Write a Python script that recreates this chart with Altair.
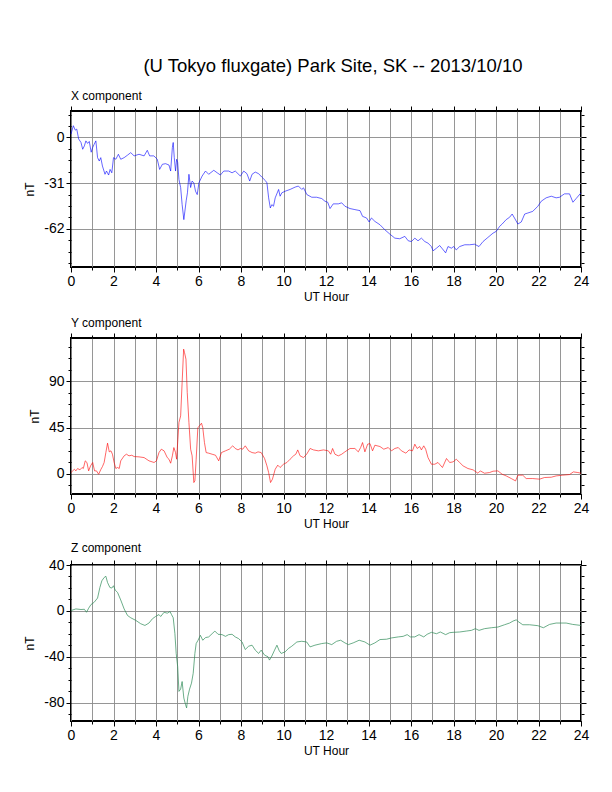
import altair as alt
import pandas as pd

FONT = "Liberation Sans"

# ---------------- data ----------------
x_t = [0.0, 0.11, 0.2, 0.27, 0.36, 0.47, 0.55, 0.63, 0.7, 0.78, 0.86, 0.95, 1.02, 1.09, 1.17,
       1.25, 1.33, 1.4, 1.48, 1.6, 1.67, 1.77, 1.84, 1.92, 2.0, 2.11, 2.23, 2.34, 2.5, 2.66,
       2.81, 2.97, 3.2, 3.44, 3.59, 3.7, 3.9, 4.06, 4.17, 4.3, 4.45, 4.61, 4.69, 4.77, 4.81,
       4.86, 4.92, 4.97, 5.02, 5.08, 5.16, 5.23, 5.31, 5.36, 5.42, 5.48, 5.55, 5.63, 5.7, 5.78,
       5.86, 5.94, 6.02, 6.17, 6.33, 6.48, 6.72, 6.88, 7.03, 7.19, 7.42, 7.58, 7.73, 7.97, 8.13,
       8.28, 8.41, 8.52, 8.67, 8.83, 8.98, 9.14, 9.22, 9.3, 9.38, 9.45, 9.53, 9.61, 9.77, 9.84,
       9.92, 10.08, 10.31, 10.55, 10.7, 10.86, 10.94, 11.1, 11.33, 11.56, 11.8, 11.95, 12.08,
       12.19, 12.34, 12.58, 12.74, 12.89, 13.13, 13.36, 13.6, 13.72, 13.91, 14.03, 14.14, 14.3,
       14.54, 14.77, 15.0, 15.24, 15.47, 15.71, 15.87, 16.02, 16.18, 16.33, 16.49, 16.65, 16.8,
       16.96, 17.04, 17.2, 17.35, 17.48, 17.63, 17.74, 17.9, 18.01, 18.13, 18.29, 18.53, 18.76,
       18.99, 19.2, 19.39, 19.62, 19.86, 20.01, 20.17, 20.29, 20.48, 20.64, 20.76, 20.87, 21.03,
       21.19, 21.35, 21.5, 21.73, 21.97, 22.13, 22.36, 22.6, 22.83, 22.99, 23.22, 23.46, 23.62,
       23.77, 24.0]
x_v = [2.3, 8, 5, 5.7, -1, -3.4, -8, -5.7, -2.3, -4, -2.7, -10, -6.8, -4.6, -2.3,
       -13.7, -16, -13.7, -19.4, -25, -22.8, -25.5, -21.7, -24, -13.7, -14.8, -11.4, -14.8, -13.7, -12,
       -10.3, -12.5, -11.4, -12.5, -8.7, -12.5, -12.5, -14.8, -21.7, -18.2, -17.8, -18.7, -22.8, -6.8, -3.4,
       -13.7, -22.8, -14.8, -17, -28.5, -34, -45.6, -55.8, -50, -43, -37.6, -25, -34, -29.6, -30.8,
       -36.5, -38.8, -30.8, -26.2, -22.8, -25, -22.3, -24, -25.5, -22.8, -22.8, -24, -22.8, -26.2, -22.8,
       -24.6, -29.6, -25, -23.5, -24.6, -26.9, -29.2, -30.8, -41, -47.9, -45.6, -46.7, -41, -35.3, -39.9,
       -37.6, -36.5, -35.3, -33.7, -33, -35.3, -34.2, -38.8, -40.6, -40.6, -41.5, -43.3, -44,
       -48.3, -45.1, -45.1, -44.4, -46.7, -48.3, -49, -49.7, -53.6, -54.7, -57.4, -54.7, -57,
       -59.3, -62.7, -65.6, -68.4, -68.8, -67.2, -70.2, -70.7, -68.4, -70.2, -68.4, -70.7, -71.8,
       -74.1, -77, -75.2, -73.4, -75.7, -78.4, -74.1, -75.2, -74.1, -76.4, -74.1, -72.9, -72.9,
       -72.5, -74.1, -70.7, -67.9, -65, -63.8, -60.4, -58.8, -55.8, -54.2, -52, -54.7, -58.8,
       -57.4, -52, -51.3, -50.2, -46.7, -43.3, -41, -39.9, -41, -40.6, -38.3, -38.3, -44,
       -41.5, -37.6]

y_t = [0.0, 0.08, 0.16, 0.23, 0.31, 0.42, 0.52, 0.58, 0.67, 0.75, 0.83, 0.92, 1.02, 1.11, 1.2,
       1.3, 1.41, 1.48, 1.56, 1.64, 1.72, 1.8, 1.88, 1.95, 2.03, 2.11, 2.19, 2.27, 2.34, 2.5,
       2.61, 2.73, 2.86, 2.97, 3.2, 3.44, 3.67, 3.91, 4.02, 4.14, 4.25, 4.38, 4.53, 4.61, 4.69,
       4.77, 4.84, 4.92, 4.97, 5.03, 5.08, 5.16, 5.23, 5.3, 5.34, 5.41, 5.47, 5.55, 5.63, 5.7,
       5.78, 5.83, 5.89, 5.97, 6.05, 6.14, 6.2, 6.28, 6.36, 6.48, 6.64, 6.8, 6.95, 7.08, 7.27,
       7.45, 7.61, 7.73, 7.86, 7.97, 8.08, 8.2, 8.36, 8.52, 8.67, 8.8, 8.95, 9.11, 9.22, 9.3,
       9.39, 9.48, 9.61, 9.73, 9.84, 10.0, 10.16, 10.31, 10.47, 10.58, 10.67, 10.78, 10.94, 11.09,
       11.25, 11.41, 11.64, 11.88, 12.11, 12.22, 12.31, 12.42, 12.58, 12.74, 12.89, 13.13, 13.36,
       13.52, 13.63, 13.72, 13.83, 13.96, 14.07, 14.19, 14.3, 14.54, 14.72, 14.93, 15.08, 15.24,
       15.4, 15.55, 15.76, 15.91, 16.07, 16.18, 16.29, 16.41, 16.49, 16.6, 16.69, 16.8, 16.96,
       17.12, 17.27, 17.48, 17.67, 17.82, 17.98, 18.13, 18.29, 18.45, 18.68, 18.92, 19.15, 19.26,
       19.46, 19.7, 19.86, 20.09, 20.29, 20.48, 20.72, 20.92, 21.03, 21.26, 21.42, 21.73, 22.05,
       22.28, 22.6, 22.83, 23.14, 23.46, 23.64, 23.85, 24.0]
y_v = [1, 2.6, 4.2, 2.6, 4.9, 3.6, 5.9, 4.9, 12.4, 10.8, 2.6, 7.5, 10.8, 2.6, 2.6,
       -0.7, 4.2, 6.8, 10.8, 20.5, 29.7, 21.2, 22.2, 18.9, 10.8, 4.9, 5.9, 4.9, 12.4, 17.3,
       18.9, 17.3, 17.9, 16.6, 16.3, 15.6, 12.4, 10.8, 12.4, 20.5, 23.8, 22.2, 15.6, 14, 10.1,
       17.3, 25.4, 20.5, 14, 33.6, 49.9, 56.4, 89, 121.6, 118.4, 111.8, 79.2, 49.9, 23.8, 17.3,
       -8.8, -7.2, 14, 45, 46.6, 49.2, 45, 30.3, 20.5, 19.9, 18.9, 17.9, 12.4, 20.5, 22.2,
       23.8, 27.1, 24.5, 23.1, 24.5, 23.8, 27.1, 22.2, 20.5, 19.9, 21.2, 20.5, 14.7, 7.5, 1,
       -8.8, -5.5, 4.2, 8.2, 5.9, 9.1, 10.8, 14, 17.3, 18.9, 23.1, 17.3, 15.6, 18.9,
       24.5, 23.1, 22.2, 23.1, 22.2, 18.9, 24.5, 18.9, 17.3, 18.9, 21.2, 24.5, 24.5,
       21.2, 25.4, 30.3, 21.2, 28.7, 29.3, 22.2, 27.7, 26.4, 23.8, 25.4, 22.2, 24.5,
       25.4, 22.2, 19.9, 23.1, 22.2, 28.7, 24.5, 26.4, 23.1, 27.1, 23.8, 15.6, 9.1,
       9.1, 10.8, 5.9, 14.7, 10.8, 11.4, 14, 10.8, 7.5, 4.9, 3.6, 0.3, 2.6,
       0.3, 1, 2.3, 2.6, -0.7, -2.3, -4.9, -7.2, -1.6, -1.6, -4.9, -4.9, -5.5,
       -3.9, -3.6, -2.3, -1.6, -1, 1.6, 1, 0.3]

z_t = [0.0, 0.23, 0.47, 0.63, 0.73, 0.83, 0.94, 1.09, 1.25, 1.36, 1.45, 1.56, 1.64, 1.72, 1.83,
       1.92, 2.0, 2.08, 2.19, 2.34, 2.5, 2.66, 2.81, 3.05, 3.28, 3.48, 3.67, 3.83, 3.98, 4.14,
       4.22, 4.38, 4.53, 4.66, 4.73, 4.81, 4.89, 4.95, 5.02, 5.08, 5.16, 5.23, 5.31, 5.39, 5.44,
       5.5, 5.58, 5.67, 5.75, 5.83, 5.89, 5.98, 6.09, 6.2, 6.33, 6.48, 6.64, 6.77, 6.92, 7.11,
       7.27, 7.42, 7.58, 7.73, 7.89, 8.05, 8.2, 8.36, 8.52, 8.67, 8.83, 8.95, 9.11, 9.27, 9.34,
       9.45, 9.58, 9.69, 9.8, 9.89, 10.08, 10.23, 10.39, 10.63, 10.86, 11.09, 11.25, 11.48, 11.8,
       12.03, 12.27, 12.5, 12.69, 12.89, 13.05, 13.28, 13.56, 13.83, 14.07, 14.3, 14.54, 14.85,
       15.08, 15.4, 15.63, 15.82, 15.97, 16.18, 16.38, 16.6, 16.76, 16.96, 17.2, 17.38, 17.63,
       17.82, 17.98, 18.29, 18.6, 18.84, 19.03, 19.2, 19.46, 19.78, 20.09, 20.4, 20.64, 20.8,
       20.95, 21.08, 21.26, 21.58, 21.97, 22.23, 22.52, 22.83, 23.3, 23.61, 24.0]
z_v = [0.3, 1.7, 1.2, 1.4, -1.2, 2.3, 5.5, 7.5, 11.2, 20.4, 26.2, 29.1, 30.2, 24.7, 20.4,
       19.9, 21.9, 18.1, 16.1, 9.5, 1.7, -4, -6, -8.3, -11.2, -12.7, -10.6, -6.9, -4.9, -3.2,
       -4.9, -1.2, -2, -0.6, -3.2, -6, -19.9, -37.1, -48.6, -70.2, -68.2, -61.6, -76, -81.7, -84.6,
       -74.5, -68.2, -63, -54.4, -37.1, -28.5, -25.6, -21.3, -25.6, -23.3, -22.7, -19.9, -17.6, -20.4, -20.7,
       -22.2, -20.7, -20.4, -22.7, -24.2, -27.1, -33.7, -30.8, -29.9, -34.2, -37.1, -34.2, -38.6, -40, -42.9,
       -39.4, -34.2, -29.9, -34.8, -37.1, -35.7, -32.8, -30.8, -27.1, -26.5, -27.1, -31.4, -29.9, -28.5,
       -27.9, -29.4, -26.5, -25.6, -27.9, -29.4, -27.9, -25.6, -27.1, -29.9, -27.9, -25, -24.7,
       -23.6, -22.7, -22.2, -20.7, -22.7, -22.7, -20.7, -22.7, -20.4, -18.7, -19.9, -18.4, -20.7,
       -19, -18.7, -18.4, -17.6, -17, -15.5, -17, -15.5, -14.7, -14.1, -12.1, -10.6, -8.9,
       -7.8, -9.8, -12.1, -12.1, -12.9, -14.7, -11.8, -10.6, -10.6, -11.8, -12.7]

hours_all = list(range(0, 25))
hours_even = list(range(0, 25, 2))

x_major = [-62, -31, 0]
x_minor = [-85.25, -77.5, -69.75, -54.25, -46.5, -38.75, -23.25, -15.5, -7.75, 7.75, 15.5]
y_major = [0, 45, 90]
y_minor = [-11.25, 11.25, 22.5, 33.75, 56.25, 67.5, 78.75, 101.25, 112.5, 123.75]
z_major = [-80, -40, 0, 40]
z_minor = [-90, -70, -60, -50, -30, -20, -10, 10, 20, 30]

W, H = 510, 156
GRID = "#8a8a8a"


def panel(t, v, color, width, title, ydom, ymaj, ymin):
    df = pd.DataFrame({"t": t, "v": v})
    base = alt.Chart(df)
    xs = alt.Scale(domain=[0, 24], nice=False)
    ys = alt.Scale(domain=ydom, nice=False, zero=False)
    common = dict(domain=False, tickColor="black", tickWidth=1)

    # minor ticks + grid (hour grid, bottom / left)
    l_grid = base.mark_line(strokeOpacity=0).encode(
        x=alt.X("t:Q", scale=xs, title=None,
                axis=alt.Axis(orient="bottom", values=hours_all, tickSize=3, labels=False,
                              grid=True, gridColor=GRID, gridWidth=0.9, **common)),
        y=alt.Y("v:Q", scale=ys, title=None,
                axis=alt.Axis(orient="left", values=ymin, tickSize=3, labels=False,
                              grid=False, **common)),
    )
    # top / right major ticks
    l_top = base.mark_line(strokeOpacity=0).encode(
        x=alt.X("t:Q", scale=xs, title=None,
                axis=alt.Axis(orient="top", values=hours_even, tickSize=5, labels=False,
                              grid=False, **common)),
        y=alt.Y("v:Q", scale=ys, title=None,
                axis=alt.Axis(orient="right", values=ymaj, tickSize=5, labels=False,
                              grid=False, **common)),
    )
    # top / right minor ticks
    l_top2 = base.mark_line(strokeOpacity=0).encode(
        x=alt.X("t:Q", scale=xs, title=None,
                axis=alt.Axis(orient="top", values=hours_all, tickSize=3, labels=False,
                              grid=False, **common)),
        y=alt.Y("v:Q", scale=ys, title=None,
                axis=alt.Axis(orient="right", values=ymin, tickSize=3, labels=False,
                              grid=False, **common)),
    )
    # data line with labelled axes
    l_line = base.mark_line(color=color, strokeWidth=width).encode(
        x=alt.X("t:Q", scale=xs, title="UT Hour",
                axis=alt.Axis(orient="bottom", values=hours_even, tickSize=5, labelFontSize=14,
                              labelPadding=2, labelFlush=False, titleFontSize=12, titlePadding=3,
                              titleFontWeight="normal", grid=False, **common)),
        y=alt.Y("v:Q", scale=ys, title="nT",
                axis=alt.Axis(orient="left", values=ymaj, tickSize=5, labelFontSize=14,
                              labelPadding=2, labelFlush=False, labelExpr="'' + datum.value",
                              titleFontSize=12, titlePadding=7, titleFontWeight="normal",
                              grid=True, gridColor=GRID, gridWidth=0.9, **common)),
    )
    return (
        alt.layer(l_grid, l_top, l_top2, l_line)
        .resolve_axis(x="independent", y="independent")
        .properties(
            width=W, height=H,
            title=alt.TitleParams(text=title, anchor="start", frame="group", fontSize=12,
                                  fontWeight="normal", font=FONT, offset=3),
        )
    )


p1 = panel(x_t, x_v, "#0000ff", 0.6, "X component", [-88, 18], x_major, x_minor)
p2 = panel(y_t, y_v, "#ff0000", 0.6, "Y component", [-20, 132.5], y_major, y_minor)
p3 = panel(z_t, z_v, "#2e8b57", 0.7, "Z component", [-96, 40], z_major, z_minor)

chart = (
    alt.vconcat(p1, p2, p3, spacing=71, bounds="flush")
    .properties(
        title=alt.TitleParams(text="(U Tokyo fluxgate) Park Site, SK -- 2013/10/10",
                              fontSize=18.5, fontWeight="normal", font=FONT,
                              anchor="middle", frame="group", offset=13, dx=7),
        padding={"left": 14, "top": 49, "right": 5, "bottom": 5},
    )
    .configure_view(stroke="black", strokeWidth=2)
    .configure_axis(labelFont=FONT, titleFont=FONT, labelColor="black", titleColor="black")
    .configure_title(color="black")
)

chart.save("out.html", embed_options={"renderer": "svg", "actions": False})
